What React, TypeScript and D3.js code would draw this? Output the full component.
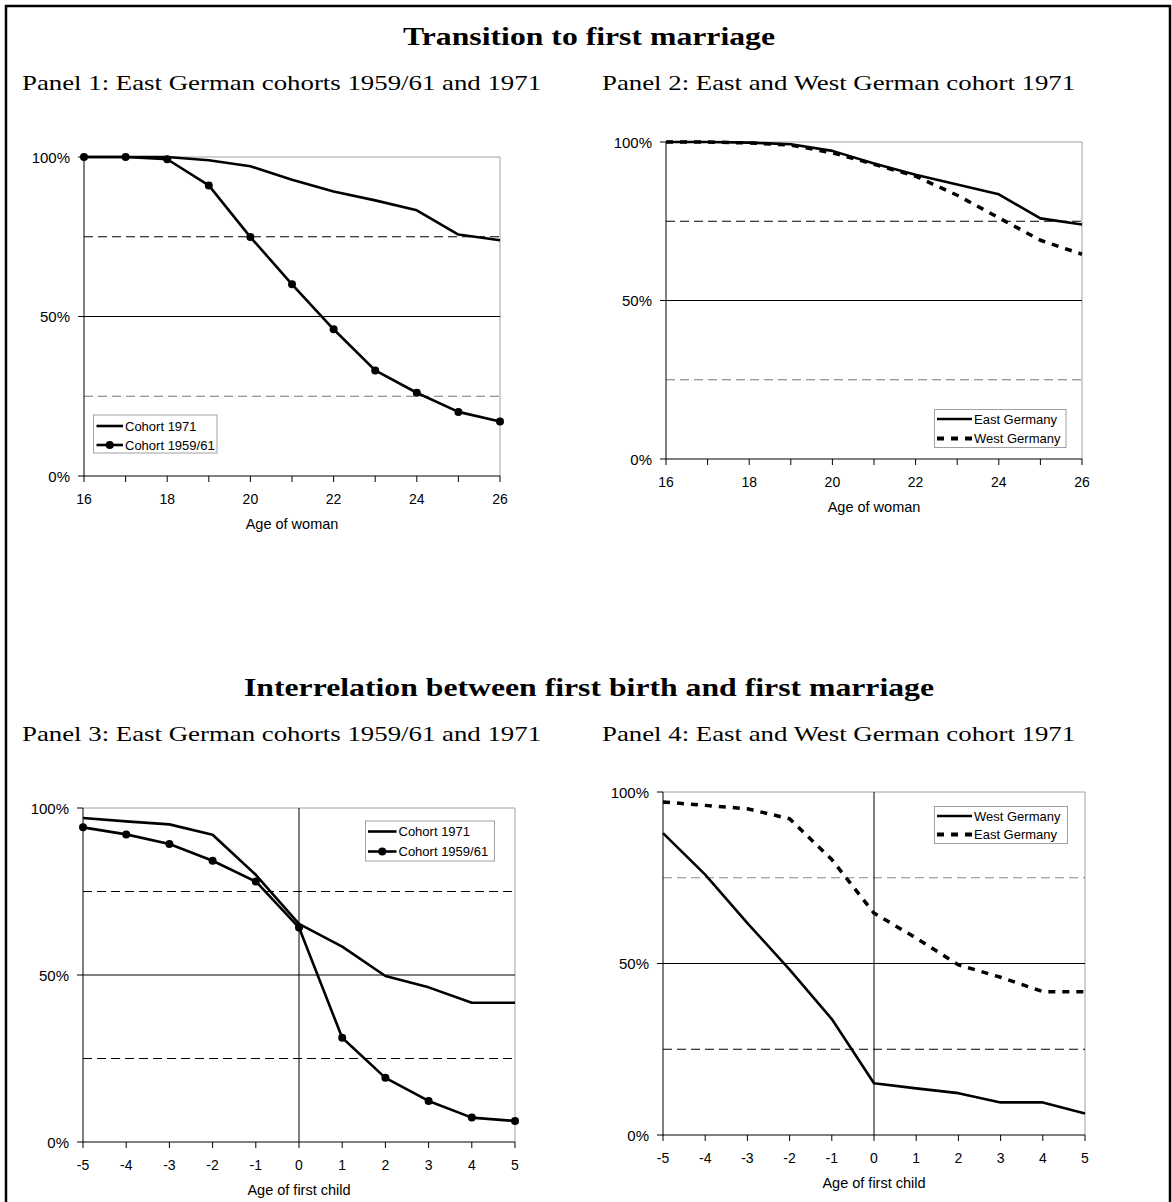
import React from 'react';
import * as d3 from 'd3';

// categories
const ageOfWoman = [16, 17, 18, 19, 20, 21, 22, 23, 24, 25, 26];
const ageOfChild = [-5, -4, -3, -2, -1, 0, 1, 2, 3, 4, 5];
const percentTicks = [0, 50, 100];
const guideLines = [25, 75];

// panel 1: East German cohorts
const p1Cohort1971 = [100, 100, 100, 99, 97.1, 92.9, 89.2, 86.4, 83.3, 75.7, 73.9];
const p1Cohort5961 = [100, 100, 99.3, 91.1, 74.9, 60.1, 46.0, 33.1, 26.1, 20.1, 17.1];

// panel 2: East vs West, cohort 1971
const p2East = [100, 100, 99.8, 99.3, 97.2, 93.2, 89.7, 86.6, 83.5, 75.9, 74.0];
const p2West = [100, 100, 99.7, 99.0, 96.6, 93.0, 89.2, 83.2, 76.1, 69.0, 64.6];

// panel 3: first birth vs first marriage, East German cohorts
const p3Cohort1971 = [97.0, 96.0, 95.1, 92.0, 80.0, 65.3, 58.5, 49.7, 46.3, 41.7, 41.7];
const p3Cohort5961 = [94.2, 92.1, 89.2, 84.2, 78.0, 64.2, 31.2, 19.2, 12.3, 7.3, 6.3];

// panel 4: first birth vs first marriage, East vs West
const p4West = [88.0, 75.9, 61.8, 48.2, 33.8, 15.1, 13.6, 12.2, 9.5, 9.5, 6.3];
const p4East = [97.1, 96.1, 95.1, 92.2, 80.3, 64.7, 57.4, 49.6, 46.0, 41.8, 41.8];

const SANS = '"Liberation Sans", Arial, Helvetica, sans-serif';
const SERIF = '"Liberation Serif", "Times New Roman", Times, serif';
const STRETCH = 1.22;

type Series = { name: string; values: number[]; dashed?: boolean; markers?: boolean };
type Box = { left: number; right: number; top: number; bottom: number };
type Legend = { x: number; y: number; w: number; h: number; rows: number[]; lineX: [number, number] };

const DASH = '7,7';

function SeriesLine({ s, x, y, categories }: { s: Series; x: any; y: any; categories: number[] }) {
  const line = d3
    .line<number>()
    .x((_, i) => x(categories[i]))
    .y((d) => y(d));
  return (
    <g>
      <path
        d={line(s.values) || ''}
        fill="none"
        stroke="#000"
        strokeWidth={s.dashed ? 3.5 : 2.6}
        strokeDasharray={s.dashed ? DASH : undefined}
        strokeLinejoin="round"
      />
      {s.markers &&
        s.values.map((v, i) => <circle key={i} cx={x(categories[i])} cy={y(v)} r={4} fill="#000" />)}
    </g>
  );
}

function Panel({
  box,
  categories,
  labelStep,
  zeroLine,
  series,
  legend,
  guideColors,
  xTitle,
}: {
  box: Box;
  categories: number[];
  labelStep: number;
  zeroLine: boolean;
  series: Series[];
  legend: Legend;
  guideColors: [string, string];
  xTitle: string;
}) {
  const x = d3
    .scaleLinear()
    .domain(d3.extent(categories) as [number, number])
    .range([box.left, box.right]);
  const y = d3.scaleLinear().domain([0, 100]).range([box.bottom, box.top]);
  const first = categories[0];

  return (
    <g fontFamily={SANS}>
      {/* plot frame */}
      <line x1={box.left} x2={box.right} y1={box.top} y2={box.top} stroke="#a0a0a0" strokeWidth={1} />
      <line x1={box.right} x2={box.right} y1={box.top} y2={box.bottom} stroke="#a0a0a0" strokeWidth={1} />

      {/* 25% / 75% guides */}
      {guideLines.map((g, i) => (
        <line
          key={g}
          x1={box.left}
          x2={box.right}
          y1={y(g)}
          y2={y(g)}
          stroke={guideColors[i]}
          strokeWidth={1}
          strokeDasharray="9,5"
        />
      ))}
      {/* 50% line */}
      <line x1={box.left} x2={box.right} y1={y(50)} y2={y(50)} stroke="#000" strokeWidth={1} />
      {zeroLine && <line x1={x(0)} x2={x(0)} y1={box.top} y2={box.bottom} stroke="#000" strokeWidth={1} />}

      {/* axes */}
      <line x1={box.left} x2={box.left} y1={box.top} y2={box.bottom + 0.5} stroke="#000" strokeWidth={1} />
      <line x1={box.left} x2={box.right} y1={box.bottom} y2={box.bottom} stroke="#000" strokeWidth={1} />
      {percentTicks.map((t) => (
        <g key={t}>
          <line x1={box.left - 6} x2={box.left} y1={y(t)} y2={y(t)} stroke="#000" strokeWidth={1} />
          <text x={box.left - 14} y={y(t) + 5.5} textAnchor="end" fontSize={15} fill="#000">
            {`${t}%`}
          </text>
        </g>
      ))}
      {categories.map((c) => (
        <g key={c}>
          <line x1={x(c)} x2={x(c)} y1={box.bottom} y2={box.bottom + 6} stroke="#000" strokeWidth={1} />
          {(c - first) % labelStep === 0 && (
            <text x={x(c)} y={box.bottom + 28} textAnchor="middle" fontSize={14} fill="#000">
              {c}
            </text>
          )}
        </g>
      ))}
      <text x={(box.left + box.right) / 2} y={box.bottom + 53} textAnchor="middle" fontSize={14.5} fill="#000">
        {xTitle}
      </text>

      {series.map((s) => (
        <SeriesLine key={s.name} s={s} x={x} y={y} categories={categories} />
      ))}

      {/* legend */}
      <rect x={legend.x} y={legend.y} width={legend.w} height={legend.h} fill="#fff" stroke="#a0a0a0" strokeWidth={1} />
      {series.map((s, i) => {
        const ry = legend.rows[i];
        const [lx0, lx1] = legend.lineX;
        return (
          <g key={s.name}>
            <line
              x1={lx0}
              x2={lx1}
              y1={ry}
              y2={ry}
              stroke="#000"
              strokeWidth={s.dashed ? 4 : 2.6}
              strokeDasharray={s.dashed ? DASH : undefined}
            />
            {s.markers && <circle cx={(lx0 + lx1) / 2} cy={ry} r={4} fill="#000" />}
            <text x={lx1 + 2} y={ry + 4.5} fontSize={13} fill="#000">
              {s.name}
            </text>
          </g>
        );
      })}
    </g>
  );
}

function SerifText({ x, y, size, bold, anchor, children }: any) {
  return (
    <text
      transform={`translate(${x},${y}) scale(${STRETCH},1)`}
      fontFamily={SERIF}
      fontSize={size}
      fontWeight={bold ? 'bold' : 'normal'}
      textAnchor={anchor || 'start'}
      fill="#000"
    >
      {children}
    </text>
  );
}

export default function App() {
  const width = 1172;
  const height = 1202;
  const dy = 651;
  return (
    <svg
      width={width}
      height={height}
      style={{ position: 'absolute', left: 0, top: 0, display: 'block', background: '#fff' }}
    >
      <rect x={0} y={0} width={width} height={height} fill="#fff" />
      <rect x={6} y={6} width={1164} height={1210} fill="none" stroke="#000" strokeWidth={2.5} />

      <SerifText x={589} y={45} size={26} bold anchor="middle">
        Transition to first marriage
      </SerifText>
      <SerifText x={22} y={90} size={22}>
        Panel 1: East German cohorts 1959/61 and 1971
      </SerifText>
      <SerifText x={602} y={90} size={22}>
        Panel 2: East and West German cohort 1971
      </SerifText>

      <SerifText x={589} y={45 + dy} size={26} bold anchor="middle">
        Interrelation between first birth and first marriage
      </SerifText>
      <SerifText x={22} y={90 + dy} size={22}>
        Panel 3: East German cohorts 1959/61 and 1971
      </SerifText>
      <SerifText x={602} y={90 + dy} size={22}>
        Panel 4: East and West German cohort 1971
      </SerifText>

      <Panel
        box={{ left: 84, right: 500, top: 157, bottom: 476 }}
        categories={ageOfWoman}
        labelStep={2}
        zeroLine={false}
        xTitle="Age of woman"
        guideColors={['#777', '#000']}
        series={[
          { name: 'Cohort 1971', values: p1Cohort1971 },
          { name: 'Cohort 1959/61', values: p1Cohort5961, markers: true },
        ]}
        legend={{ x: 93.5, y: 415, w: 123.5, h: 38, rows: [426, 445], lineX: [96.5, 123] }}
      />
      <Panel
        box={{ left: 666, right: 1082, top: 142, bottom: 459 }}
        categories={ageOfWoman}
        labelStep={2}
        zeroLine={false}
        xTitle="Age of woman"
        guideColors={['#777', '#000']}
        series={[
          { name: 'East Germany', values: p2East },
          { name: 'West Germany', values: p2West, dashed: true },
        ]}
        legend={{ x: 934.5, y: 409.5, w: 131.5, h: 38, rows: [419, 438.5], lineX: [937, 972] }}
      />
      <Panel
        box={{ left: 83, right: 515, top: 808, bottom: 1142 }}
        categories={ageOfChild}
        labelStep={1}
        zeroLine={true}
        xTitle="Age of first child"
        guideColors={['#000', '#000']}
        series={[
          { name: 'Cohort 1971', values: p3Cohort1971 },
          { name: 'Cohort 1959/61', values: p3Cohort5961, markers: true },
        ]}
        legend={{ x: 365.5, y: 821, w: 129, h: 40, rows: [831.5, 851.5], lineX: [368, 396.5] }}
      />
      <Panel
        box={{ left: 663, right: 1085, top: 792, bottom: 1135 }}
        categories={ageOfChild}
        labelStep={1}
        zeroLine={true}
        xTitle="Age of first child"
        guideColors={['#000', '#888']}
        series={[
          { name: 'West Germany', values: p4West },
          { name: 'East Germany', values: p4East, dashed: true },
        ]}
        legend={{ x: 934.5, y: 806.5, w: 133, h: 37, rows: [816, 834.5], lineX: [937, 972] }}
      />
    </svg>
  );
}
